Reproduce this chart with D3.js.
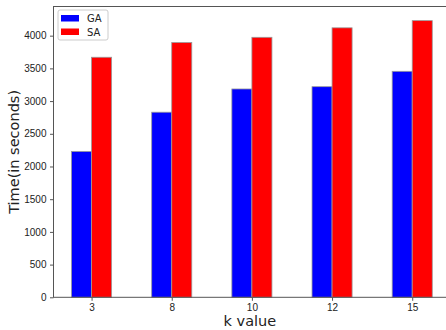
<!DOCTYPE html>
<html>
<head>
<meta charset="utf-8">
<script src="https://cdn.jsdelivr.net/npm/d3@7"></script>
<style>
  body { margin: 0; background: #fff; }
  svg { display: block; font-family: "DejaVu Sans", sans-serif; }
  .axis text { fill: #222; font-size: 10px; }
  .axis path, .axis line { stroke: #555; }
</style>
</head>
<body>
<div id="chart"></div>
<script>
// Data
let kValues = ["3", "8", "10", "12", "15"];
let gaTimes = [2230, 2830, 3185, 3220, 3455];
let saTimes = [3670, 3895, 3975, 4120, 4230];
let yTicks = [0, 500, 1000, 1500, 2000, 2500, 3000, 3500, 4000];

let width = 446;
let height = 330;

// plot area
let plotLeft = 53.5;
let plotRight = 450.3;
let plotTop = 6.5;
let plotBottom = 297.3;
let barW = 0.25;

let svg = d3.select("#chart")
  .append("svg")
  .attr("width", width)
  .attr("height", height);

let xScale = d3.scaleLinear()
  .domain([-0.475, 4.475])
  .range([plotLeft, plotRight]);

let yScale = d3.scaleLinear()
  .domain([0, 4446])
  .range([plotBottom, plotTop]);

// bars for both series
let series = [
  {name: "GA", color: "#0000ff", values: gaTimes, offset: -barW},
  {name: "SA", color: "#ff0000", values: saTimes, offset: 0}
];

series.forEach(s => {
  svg.append("g")
    .selectAll("rect")
    .data(s.values)
    .enter()
    .append("rect")
    .attr("x", (d, i) => xScale(i + s.offset))
    .attr("y", d => yScale(d))
    .attr("width", xScale(barW) - xScale(0))
    .attr("height", d => plotBottom - yScale(d))
    .attr("fill", s.color)
    .attr("stroke", "#999")
    .attr("stroke-width", 0.8);
});

// axes
let xAxis = d3.axisBottom(xScale)
  .tickValues(d3.range(kValues.length))
  .tickFormat(i => kValues[i])
  .tickSize(3.5)
  .tickSizeOuter(0);

svg.append("g")
  .attr("class", "axis")
  .attr("transform", "translate(0," + plotBottom + ")")
  .call(xAxis)
  .call(g => g.select(".domain").remove());

let yAxis = d3.axisLeft(yScale)
  .tickValues(yTicks)
  .tickFormat(d3.format("d"))
  .tickSize(3.5)
  .tickPadding(3.5);

svg.append("g")
  .attr("class", "axis")
  .attr("transform", "translate(" + plotLeft + ",0)")
  .call(yAxis)
  .call(g => g.select(".domain").remove());

// spines
svg.append("rect")
  .attr("x", plotLeft)
  .attr("y", plotTop)
  .attr("width", plotRight - plotLeft)
  .attr("height", plotBottom - plotTop)
  .attr("fill", "none")
  .attr("stroke", "#555")
  .attr("stroke-width", 1);

// axis labels
svg.append("text")
  .attr("x", (plotLeft + plotRight) / 2 - 2)
  .attr("y", 326)
  .attr("text-anchor", "middle")
  .attr("font-size", "14.5px")
  .attr("fill", "#222")
  .text("k value");

svg.append("text")
  .attr("transform", "translate(19," + ((plotTop + plotBottom) / 2) + ") rotate(-90)")
  .attr("text-anchor", "middle")
  .attr("font-size", "14.5px")
  .attr("fill", "#222")
  .text("Time(in seconds)");

// legend
let legend = svg.append("g").attr("transform", "translate(58,10)");

legend.append("rect")
  .attr("width", 50)
  .attr("height", 30)
  .attr("rx", 2)
  .attr("fill", "#fff")
  .attr("fill-opacity", 0.8)
  .attr("stroke", "#ccc");

legend.selectAll(".item")
  .data(series)
  .enter()
  .append("g")
  .attr("transform", (d, i) => "translate(3," + (5 + i * 13.5) + ")")
  .each(function(d) {
    let g = d3.select(this);
    g.append("rect")
      .attr("width", 18)
      .attr("height", 6.5)
      .attr("fill", d.color);
    g.append("text")
      .attr("x", 26)
      .attr("y", 7)
      .attr("font-size", "10px")
      .attr("fill", "#222")
      .text(d.name);
  });
</script>
</body>
</html>
